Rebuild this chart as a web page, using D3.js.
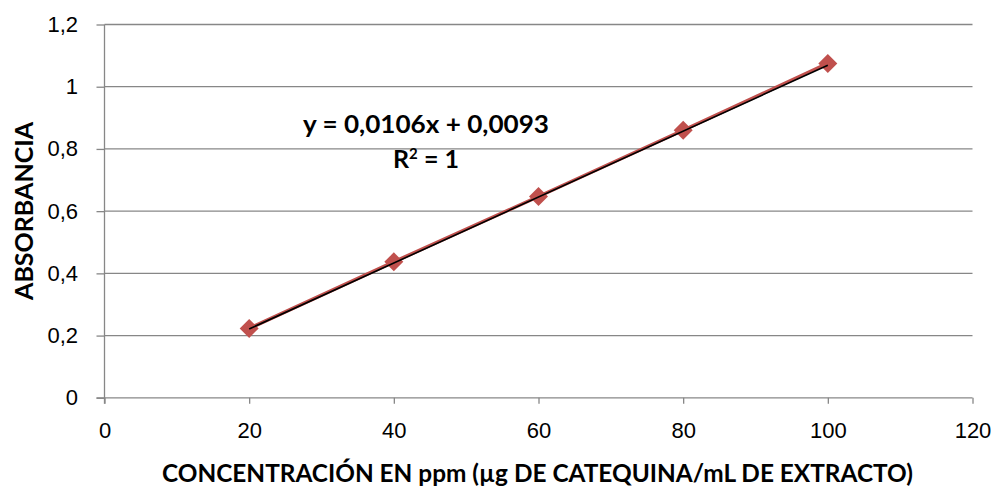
<!DOCTYPE html>
<html>
<head>
<meta charset="utf-8">
<script src="https://cdn.jsdelivr.net/npm/d3@7"></script>
<style>
  body { margin: 0; background: #fff; }
  svg { font-family: Lato, "Open Sans", sans-serif; }
</style>
</head>
<body>
<div class="holder"></div>
<script>
// concentracion (ppm) vs absorbancia
var concentracion = [20, 40, 60, 80, 100]
var absorbancia = [0.223, 0.437, 0.647, 0.860, 1.075]
var xTicks = [0, 20, 40, 60, 80, 100, 120]
var yTicks = [0, 0.2, 0.4, 0.6, 0.8, 1, 1.2]
var slope = 0.0106, intercept = 0.0093

var width = 997,
    height = 486;

var margin = {left: 104.5, right: 997 - 972.5, top: 24.5, bottom: 486 - 397.8}

var comma = function(d) { return String(d).replace(".", ",") }

var x = d3.scaleLinear().domain([0, 120]).range([margin.left, width - margin.right])
var y = d3.scaleLinear().domain([0, 1.2]).range([height - margin.bottom, margin.top])

var svg = d3.select(".holder").append("svg")
    .attr("width", width)
    .attr("height", height)

var gridColor = "#878787"

// horizontal gridlines
svg.append("g")
    .selectAll("line")
    .data(yTicks.filter(d => d > 0))
    .enter().append("line")
    .attr("x1", x(0))
    .attr("x2", x(120))
    .attr("y1", d => y(d))
    .attr("y2", d => y(d))
    .style("stroke", gridColor)
    .style("stroke-width", 1.3)

// y axis
var yAxis = d3.axisLeft(y)
    .tickValues(yTicks)
    .tickSize(8)
    .tickPadding(18.5)
    .tickFormat(comma)

svg.append("g")
    .attr("transform", "translate(" + x(0) + ",0)")
    .call(yAxis)
    .call(g => g.select(".domain").attr("d", "M0," + y(1.2) + "V" + (y(0) + 6)))

// x axis
var xAxis = d3.axisBottom(x)
    .tickValues(xTicks)
    .tickSize(6)
    .tickFormat(comma)

svg.append("g")
    .attr("transform", "translate(0," + y(0) + ")")
    .call(xAxis)
    .call(g => g.select(".domain").attr("d", "M" + (x(0) - 8) + ",0H" + x(120)))
    .call(g => g.selectAll(".tick text").attr("y", 40).attr("dy", 0))

svg.selectAll(".domain, .tick line")
    .style("stroke", gridColor)
    .style("stroke-width", 1.3)

svg.selectAll(".tick text")
    .style("font-size", "22px")
    .style("fill", "#000")

// series line
var line = d3.line()
    .x((d, i) => x(concentracion[i]))
    .y(d => y(d))

svg.append("path")
    .datum(absorbancia)
    .attr("d", line)
    .style("fill", "none")
    .style("stroke", "#C0504D")
    .style("stroke-width", 3.5)

// markers
var r = 9.5
svg.selectAll(".marker")
    .data(absorbancia)
    .enter().append("path")
    .attr("class", "marker")
    .attr("d", "M0," + (-r) + "L" + r + ",0L0," + r + "L" + (-r) + ",0Z")
    .attr("transform", (d, i) => "translate(" + x(concentracion[i]) + "," + y(d) + ")")
    .style("fill", "#C0504D")

// linear trendline
var xr = d3.extent(concentracion)
svg.append("line")
    .attr("x1", x(xr[0]))
    .attr("y1", y(slope * xr[0] + intercept))
    .attr("x2", x(xr[1]))
    .attr("y2", y(slope * xr[1] + intercept))
    .style("stroke", "#000")
    .style("stroke-width", 1.6)

// equation label
svg.append("text")
    .attr("x", 426)
    .attr("y", 133)
    .attr("text-anchor", "middle")
    .attr("textLength", 246)
    .attr("lengthAdjust", "spacingAndGlyphs")
    .style("font-size", "25px")
    .style("font-weight", "bold")
    .text("y = " + comma(slope) + "x + " + comma(intercept))

var r2 = svg.append("text")
    .attr("x", 426)
    .attr("y", 168)
    .attr("text-anchor", "middle")
    .style("font-size", "25px")
    .style("font-weight", "bold")
r2.append("tspan").text("R")
r2.append("tspan").text("2").attr("dy", -9).style("font-size", "15px")
r2.append("tspan").text(" = 1").attr("dy", 9)

// axis titles
svg.append("text")
    .attr("x", 537.5)
    .attr("y", 482)
    .attr("text-anchor", "middle")
    .attr("textLength", 751)
    .attr("lengthAdjust", "spacingAndGlyphs")
    .style("font-size", "25px")
    .style("font-weight", "bold")
    .text("CONCENTRACIÓN EN ppm (µg DE CATEQUINA/mL DE EXTRACTO)")

svg.append("text")
    .attr("transform", "translate(33,211) rotate(-90)")
    .attr("text-anchor", "middle")
    .attr("textLength", 178)
    .attr("lengthAdjust", "spacingAndGlyphs")
    .style("font-size", "25px")
    .style("font-weight", "bold")
    .text("ABSORBANCIA")
</script>
</body>
</html>
